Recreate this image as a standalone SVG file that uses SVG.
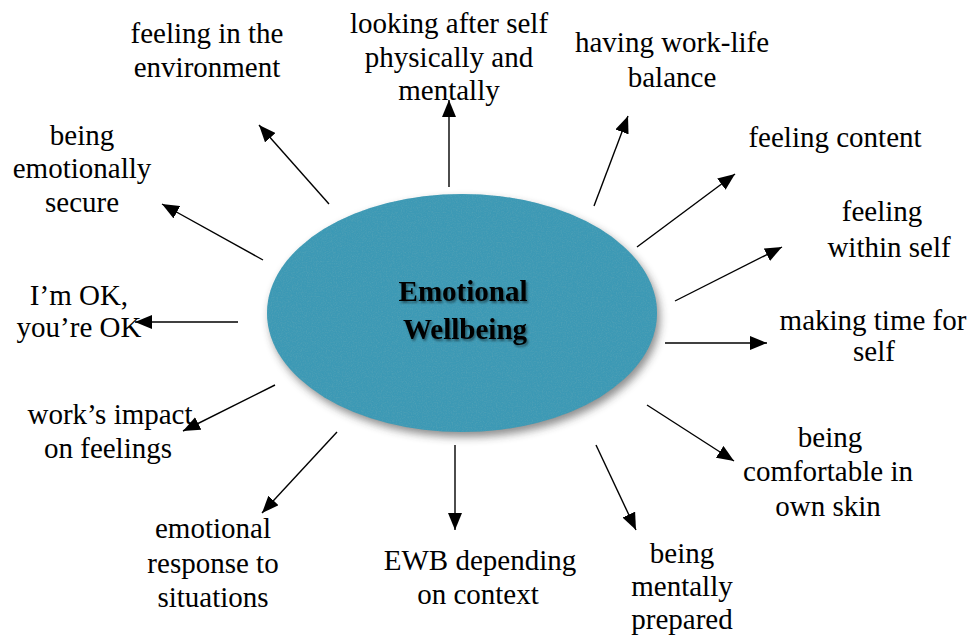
<svg xmlns="http://www.w3.org/2000/svg" width="971" height="636" viewBox="0 0 971 636">
  <style>
    .lbl { font-family: "Liberation Serif", "Times New Roman", serif; font-size: 29px; fill: #000; text-anchor: middle; }
    .ctr { font-family: "Liberation Serif", "Times New Roman", serif; font-size: 29px; font-weight: bold; fill: #000; text-anchor: middle; }
    .conn line { stroke: #000; stroke-width: 1.4; fill: none; marker-end: url(#arrow); }
  </style>
  <defs>
    <marker id="arrow" markerUnits="userSpaceOnUse" markerWidth="17" markerHeight="14" refX="17" refY="7" orient="auto">
      <path d="M0,0 L17,7 L0,14 Z" fill="#000"/>
    </marker>
    <filter id="texture" x="0" y="0" width="1" height="1">
      <feTurbulence type="fractalNoise" baseFrequency="0.8" numOctaves="3" seed="7" result="noise"/>
      <feColorMatrix in="noise" type="matrix" values="0 0 0 0 0.08  0 0 0 0 0.36  0 0 0 0 0.47  0 0 0 -1.6 0.95" result="spots"/>
      <feComposite in="spots" in2="SourceGraphic" operator="in" result="clipped"/>
      <feMerge>
        <feMergeNode in="SourceGraphic"/>
        <feMergeNode in="clipped"/>
      </feMerge>
    </filter>
    <filter id="shadow" x="-20%" y="-20%" width="140%" height="140%">
      <feGaussianBlur stdDeviation="4"/>
    </filter>
    <filter id="tshadow" x="-10%" y="-20%" width="120%" height="150%">
      <feDropShadow dx="1.5" dy="2" stdDeviation="1" flood-color="#000" flood-opacity="0.45"/>
    </filter>
  </defs>

  <g id="center">
    <ellipse cx="465" cy="318" rx="195" ry="119" fill="#333" opacity="0.55" filter="url(#shadow)"/>
    <ellipse cx="462" cy="313" rx="195" ry="119" fill="#3c99b5" filter="url(#texture)"/>
    <g filter="url(#tshadow)">
      <text class="ctr" x="463" y="301">Emotional</text>
      <text class="ctr" x="465" y="339">Wellbeing</text>
    </g>
  </g>

  <g id="connectors" class="conn">
    <line x1="329" y1="204" x2="259" y2="125"/>
    <line x1="263" y1="260" x2="162" y2="204"/>
    <line x1="449" y1="187" x2="449" y2="100"/>
    <line x1="594" y1="206" x2="628" y2="116"/>
    <line x1="637" y1="247" x2="735" y2="174"/>
    <line x1="675" y1="301" x2="782" y2="247"/>
    <line x1="665" y1="343" x2="767" y2="343"/>
    <line x1="647" y1="405" x2="734" y2="461"/>
    <line x1="596" y1="445" x2="636" y2="530"/>
    <line x1="455" y1="445" x2="455" y2="530"/>
    <line x1="337" y1="432" x2="262" y2="513"/>
    <line x1="275" y1="385" x2="183" y2="431"/>
    <line x1="238" y1="322" x2="135" y2="322"/>
  </g>

  <g id="n-environment">
    <text class="lbl" x="207" y="43">feeling in the</text>
    <text class="lbl" x="207" y="77">environment</text>
  </g>
  <g id="n-looking">
    <text class="lbl" x="449" y="33">looking after self</text>
    <text class="lbl" x="449" y="67">physically and</text>
    <text class="lbl" x="449" y="100">mentally</text>
  </g>
  <g id="n-worklife">
    <text class="lbl" x="672" y="52">having work-life</text>
    <text class="lbl" x="672" y="87">balance</text>
  </g>
  <g id="n-content">
    <text class="lbl" x="835" y="147">feeling content</text>
  </g>
  <g id="n-within">
    <text class="lbl" x="882" y="221">feeling</text>
    <text class="lbl" x="889" y="257">within self</text>
  </g>
  <g id="n-making">
    <text class="lbl" x="873" y="330">making time for</text>
    <text class="lbl" x="874" y="361">self</text>
  </g>
  <g id="n-comfortable">
    <text class="lbl" x="830" y="447">being</text>
    <text class="lbl" x="828" y="481">comfortable in</text>
    <text class="lbl" x="828" y="516">own skin</text>
  </g>
  <g id="n-mentally">
    <text class="lbl" x="682" y="563">being</text>
    <text class="lbl" x="682" y="596">mentally</text>
    <text class="lbl" x="682" y="629">prepared</text>
  </g>
  <g id="n-ewb">
    <text class="lbl" x="480" y="570">EWB depending</text>
    <text class="lbl" x="478" y="604">on context</text>
  </g>
  <g id="n-response">
    <text class="lbl" x="213" y="538">emotional</text>
    <text class="lbl" x="213" y="573">response to</text>
    <text class="lbl" x="213" y="607">situations</text>
  </g>
  <g id="n-impact">
    <text class="lbl" x="110" y="424">work’s impact</text>
    <text class="lbl" x="108" y="458">on feelings</text>
  </g>
  <g id="n-ok">
    <text class="lbl" x="79" y="305">I’m OK,</text>
    <text class="lbl" x="79" y="337">you’re OK</text>
  </g>
  <g id="n-secure">
    <text class="lbl" x="82" y="145">being</text>
    <text class="lbl" x="82" y="178">emotionally</text>
    <text class="lbl" x="82" y="212">secure</text>
  </g>
</svg>
